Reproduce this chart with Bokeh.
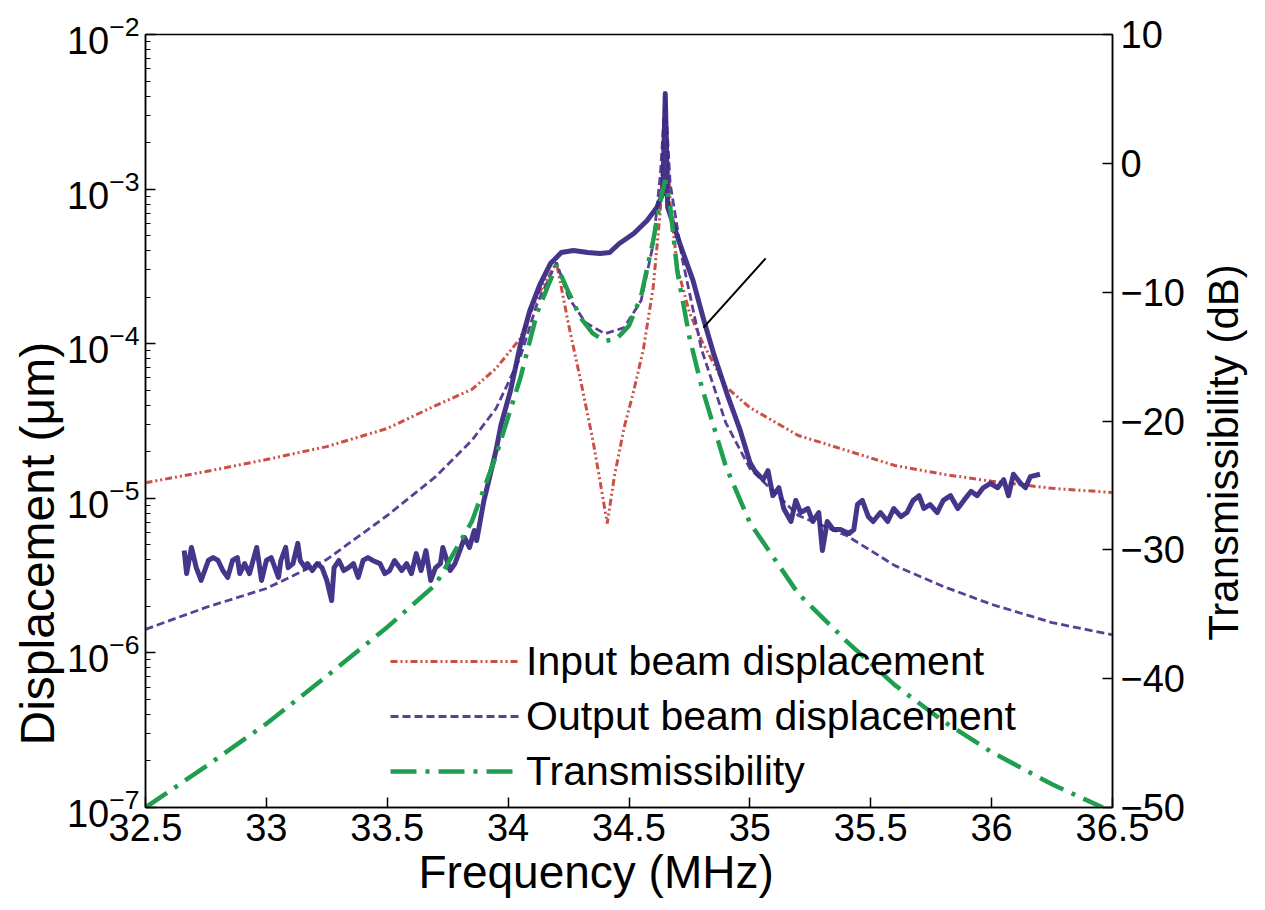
from bokeh.plotting import figure
from bokeh.models import (Range1d, LinearAxis, FixedTicker, Legend, LegendItem,
                          CustomJSTickFormatter, LinearScale, Title, Label)
from bokeh.embed import file_html
from bokeh.resources import INLINE

FONT = "Liberation Sans"

# ---------------- data ----------------
freq_ticks = [32.5, 33.0, 33.5, 34.0, 34.5, 35.0, 35.5, 36.0, 36.5]
db_ticks = [-50, -40, -30, -20, -10, 0, 10]

input_f = [32.5, 32.75, 33.0, 33.25, 33.5, 33.7, 33.85, 33.95, 34.05, 34.12, 34.2, 34.25,
           34.3, 34.35, 34.38, 34.41, 34.44, 34.48, 34.52, 34.56, 34.6, 34.63, 34.65, 34.67,
           34.7, 34.75, 34.8, 34.9, 35.0, 35.2, 35.4, 35.6, 35.8, 36.0, 36.25, 36.5]
input_disp = [1.26e-5, 1.49e-5, 1.78e-5, 2.16e-5, 2.83e-5, 3.98e-5, 5.06e-5, 6.92e-5, 1.08e-4,
              2.02e-4, 3.35e-4, 1.33e-4, 5.78e-5, 2.4e-5, 1.30e-5, 6.87e-6, 1.40e-5, 2.87e-5,
              4.98e-5, 9.31e-5, 2.31e-4, 7.38e-4, 4.0e-3, 8.19e-4, 3.11e-4, 1.59e-4, 1.05e-4,
              5.28e-5, 3.86e-5, 2.55e-5, 2.04e-5, 1.63e-5, 1.43e-5, 1.29e-5, 1.16e-5, 1.09e-5]

output_f = [32.5, 32.75, 33.0, 33.25, 33.5, 33.7, 33.85, 33.95, 34.05, 34.12, 34.2, 34.25,
            34.32, 34.4, 34.48, 34.55, 34.6, 34.63, 34.65, 34.67, 34.72, 34.8, 34.9, 35.0,
            35.2, 35.4, 35.6, 35.8, 36.0, 36.25, 36.5]
output_disp = [1.42e-6, 1.97e-6, 2.61e-6, 4.02e-6, 7.74e-6, 1.38e-5, 2.37e-5, 3.81e-5, 8.15e-5,
               1.82e-4, 3.35e-4, 1.99e-4, 1.37e-4, 1.16e-4, 1.27e-4, 1.90e-4, 4.38e-4, 1.26e-3,
               4.0e-3, 1.10e-3, 3.56e-4, 9.18e-5, 3.09e-5, 1.56e-5, 7.74e-6, 5.74e-6, 3.67e-6,
               2.69e-6, 2.06e-6, 1.57e-6, 1.31e-6]

trans_f = [32.5, 32.75, 33.0, 33.25, 33.5, 33.7, 33.85, 33.95, 34.05, 34.12, 34.2, 34.25, 34.3,
           34.35, 34.4, 34.45, 34.5, 34.55, 34.6, 34.63, 34.65, 34.67, 34.7, 34.75, 34.8, 34.9,
           35.0, 35.2, 35.4, 35.6, 35.8, 36.0, 36.25, 36.46]
trans_db = [-50.0, -46.8, -43.5, -39.8, -36.0, -32.7, -27.8, -22.7, -16.7, -11.6, -7.9, -10.0,
            -12.0, -13.2, -13.8, -13.6, -12.6, -10.3, -6.0, -2.9, -1.3, -3.3, -8.4, -13.5,
            -17.3, -23.5, -27.9, -33.4, -37.1, -40.5, -43.3, -45.7, -48.2, -50.0]

meas_f = [32.66, 32.67, 32.69, 32.71, 32.73, 32.76, 32.78, 32.80, 32.82, 32.84, 32.86, 32.88,
          32.89, 32.91, 32.93, 32.96, 32.97, 32.98, 33.00, 33.02, 33.05, 33.06, 33.08, 33.09,
          33.11, 33.13, 33.14, 33.16, 33.17, 33.19, 33.21, 33.23, 33.25, 33.27, 33.28, 33.30,
          33.32, 33.34, 33.36, 33.38, 33.40, 33.42, 33.44, 33.47, 33.49, 33.51, 33.53, 33.56,
          33.58, 33.60, 33.62, 33.64, 33.66, 33.68, 33.70, 33.72, 33.73, 33.76, 33.78, 33.80,
          33.82, 33.84, 33.86, 33.87, 33.89, 33.90, 33.92,
          33.95, 33.97, 34.01, 34.05, 34.09, 34.13, 34.175, 34.20, 34.22, 34.27, 34.33, 34.38,
          34.42, 34.46, 34.52, 34.575, 34.615, 34.64, 34.65, 34.66, 34.71, 34.765, 34.81, 34.85,
          34.905, 34.96, 35.00, 35.02, 35.055, 35.075, 35.095, 35.12, 35.14, 35.17, 35.19, 35.21,
          35.24, 35.26, 35.285, 35.30, 35.32, 35.345, 35.375, 35.41, 35.43, 35.445, 35.465, 35.49,
          35.51, 35.54, 35.57, 35.595, 35.625, 35.65, 35.675, 35.70, 35.72, 35.745, 35.775, 35.80,
          35.83, 35.86, 35.885, 35.915, 35.94, 35.965, 35.995, 36.025, 36.05, 36.07, 36.09, 36.12,
          36.14, 36.16, 36.20]
meas_disp = [4.59e-6, 3.26e-6, 4.81e-6, 3.56e-6, 2.94e-6, 3.96e-6, 4.14e-6, 3.96e-6, 3.41e-6,
             3.08e-6, 3.96e-6, 4.14e-6, 3.26e-6, 3.78e-6, 3.26e-6, 4.81e-6, 3.78e-6, 2.94e-6,
             3.96e-6, 4.14e-6, 3.08e-6, 3.96e-6, 4.81e-6, 3.56e-6, 3.78e-6, 5.11e-6, 3.96e-6,
             3.56e-6, 3.78e-6, 3.41e-6, 3.78e-6, 3.56e-6, 2.94e-6, 2.18e-6, 3.56e-6, 3.96e-6,
             3.41e-6, 3.56e-6, 3.78e-6, 3.08e-6, 3.96e-6, 4.14e-6, 3.96e-6, 3.78e-6, 3.26e-6,
             3.41e-6, 3.96e-6, 3.41e-6, 3.78e-6, 3.26e-6, 4.39e-6, 3.41e-6, 4.59e-6, 2.94e-6,
             3.56e-6, 3.78e-6, 4.81e-6, 3.41e-6, 3.78e-6, 4.59e-6, 5.57e-6, 4.81e-6, 6.19e-6,
             5.33e-6, 7.98e-6, 9.69e-6, 1.30e-5,
             2.04e-5, 2.96e-5, 4.98e-5, 9.73e-5, 1.64e-4, 2.38e-4, 3.30e-4, 3.61e-4, 3.89e-4,
             4.01e-4, 3.89e-4, 3.83e-4, 3.89e-4, 4.45e-4, 5.16e-4, 6.26e-4, 7.60e-4, 9.37e-4,
             4.15e-3, 7.60e-4, 4.45e-4, 2.56e-4, 1.41e-4, 8.65e-5, 4.76e-5, 2.75e-5, 1.71e-5,
             1.51e-5, 1.32e-5, 1.51e-5, 1.04e-5, 1.17e-5, 8.59e-6, 7.08e-6, 9.69e-6, 8.09e-6,
             8.59e-6, 7.08e-6, 8.09e-6, 4.59e-6, 7.08e-6, 6.28e-6, 6.28e-6, 5.92e-6, 6.28e-6,
             9.12e-6, 9.69e-6, 7.61e-6, 7.08e-6, 8.09e-6, 7.08e-6, 8.59e-6, 7.61e-6, 8.09e-6,
             9.69e-6, 1.04e-5, 8.59e-6, 9.12e-6, 8.09e-6, 9.69e-6, 1.04e-5, 8.59e-6, 9.69e-6,
             1.11e-5, 1.04e-5, 1.17e-5, 1.25e-5, 1.17e-5, 1.32e-5, 1.04e-5, 1.43e-5, 1.25e-5,
             1.17e-5, 1.38e-5, 1.43e-5]

pointer_f = [34.808, 35.065]
pointer_disp = [1.27e-4, 3.56e-4]

# ---------------- figure ----------------
p = figure(width=1257, height=902, x_range=Range1d(32.5, 36.5), y_range=Range1d(1e-7, 1e-2),
           y_axis_type="log", output_backend="svg", toolbar_location=None,
           min_border_left=145, min_border_right=145, min_border_top=34, min_border_bottom=95)
p.extra_y_ranges = {"db": Range1d(-50, 10)}
p.extra_y_scales = {"db": LinearScale()}
p.xgrid.visible = False
p.ygrid.visible = False
p.outline_line_color = "black"
p.outline_line_width = 1.5
p.background_fill_color = "white"
p.border_fill_color = "white"


def style(ax, label_size="38px"):
    ax.major_tick_in = 10
    ax.major_tick_out = 0
    ax.minor_tick_in = 5
    ax.minor_tick_out = 0
    ax.axis_line_width = 1.5
    ax.major_tick_line_width = 1.5
    ax.minor_tick_line_width = 1.2
    ax.axis_line_color = "black"
    ax.major_tick_line_color = "black"
    ax.minor_tick_line_color = "black"
    ax.major_label_text_font = FONT
    ax.major_label_text_font_size = label_size
    ax.major_label_text_color = "black"


xticker = FixedTicker(ticks=freq_ticks, minor_ticks=[])
p.xaxis.ticker = xticker
p.xaxis.formatter = CustomJSTickFormatter(code="return String(tick)")
style(p.xaxis[0])
p.xaxis.major_label_standoff = 6

style(p.yaxis[0])
p.yaxis.major_label_standoff = 6

right = LinearAxis(y_range_name="db", ticker=FixedTicker(ticks=db_ticks, minor_ticks=[]))
style(right)
right.major_label_standoff = 8
p.add_layout(right, "right")

# axis titles, placed off-centre as in the reference
p.add_layout(Title(text="Frequency (MHz)", align="left", offset=273, standoff=0,
                   text_font=FONT, text_font_size="46px", text_font_style="normal",
                   text_color="black"), "below")
p.add_layout(Title(text="Displacement (μm)", align="left", offset=62, standoff=0,
                   text_font=FONT, text_font_size="48px", text_font_style="normal",
                   text_color="black"), "left")
p.add_layout(Label(x=36, y=355, x_units="screen", y_units="screen",
                   text="Transmissibility (dB)", angle=90, angle_units="deg",
                   text_align="center", text_baseline="middle", text_font=FONT,
                   text_font_size="42px", text_color="black"), "right")

# ---------------- series ----------------
r_in = p.line(input_f, input_disp, line_color="#cc4f45", line_width=3,
              line_dash="7 3 2 3 2 3")
r_out = p.line(output_f, output_disp, line_color="#5a3f94", line_width=2.8,
               line_dash="8 4")
p.line(meas_f, meas_disp, line_color="#3b2a85", line_width=5, line_alpha=0.95,
       line_join="round")
r_tr = p.line(trans_f, trans_db, y_range_name="db", line_color="#1f9e4f", line_width=4.5,
              line_dash="26 9 4 9")
p.line(pointer_f, pointer_disp, line_color="black", line_width=2)

legend = Legend(items=[LegendItem(label="Input beam displacement", renderers=[r_in]),
                       LegendItem(label="Output beam displacement", renderers=[r_out]),
                       LegendItem(label="Transmissibility", renderers=[r_tr])],
                location=(245, 11), glyph_width=130, glyph_height=50,
                label_text_font=FONT, label_text_font_size="41px", label_text_color="black",
                background_fill_alpha=0, border_line_alpha=0, padding=0, spacing=5,
                label_standoff=6, margin=0)
p.add_layout(legend)

open("out.html", "w").write(file_html(p, INLINE))
